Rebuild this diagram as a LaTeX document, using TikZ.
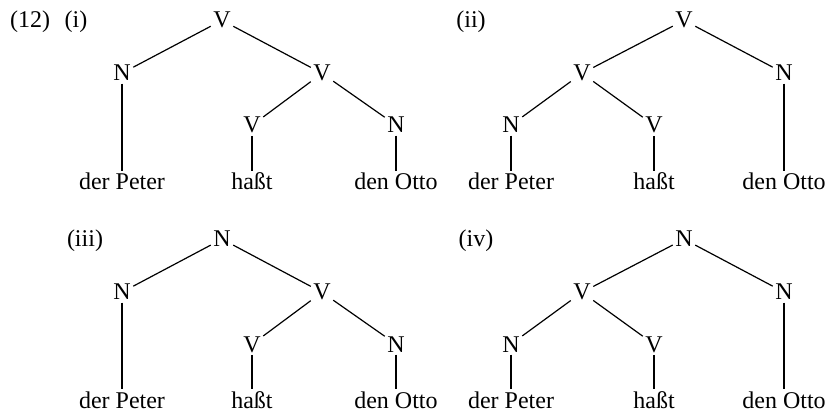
\documentclass[tikz,border=0pt]{standalone}
\usepackage{fontspec}
\setmainfont{Liberation Serif}
\usetikzlibrary{positioning}

\begin{document}
\begin{tikzpicture}[x=0.75pt, y=-0.75pt, line width=0.9pt,
    cat/.style={anchor=base, inner sep=1.5pt, font=\fontsize{18}{21}\selectfont},
    word/.style={anchor=base, inner xsep=2pt, inner ysep=1pt, font=\fontsize{18}{21}\selectfont},
    exno/.style={anchor=base, font=\fontsize{18}{21}\selectfont}]
\useasboundingbox (0,0) rectangle (828,413);

% Labels
\node[exno] (ex) at (30,28) {(12)};
\node[exno] (lab-i) at (76,28) {(i)};
\node[exno] (lab-ii) at (471,28) {(ii)};
\node[exno] (lab-iii) at (85,247) {(iii)};
\node[exno] (lab-iv) at (476,247) {(iv)};

% Tree (i)
\node[cat] (i-top) at (222,28) {V};
\node[cat] (i-a) at (122,81) {N};
\node[cat] (i-b) at (322,81) {V};
\node[cat] (i-c) at (252,133) {V};
\node[cat] (i-d) at (396,133) {N};
\node[word] (i-peter) at (122,190) {der Peter};
\node[word] (i-hasst) at (252,190) {haßt};
\node[word] (i-otto) at (396,190) {den Otto};

% Tree (ii)
\node[cat] (ii-top) at (684,28) {V};
\node[cat] (ii-a) at (582,81) {V};
\node[cat] (ii-b) at (784,81) {N};
\node[cat] (ii-c) at (511,133) {N};
\node[cat] (ii-d) at (654,133) {V};
\node[word] (ii-peter) at (511,190) {der Peter};
\node[word] (ii-hasst) at (654,190) {haßt};
\node[word] (ii-otto) at (784,190) {den Otto};

% Tree (iii)
\node[cat] (iii-top) at (222,247) {N};
\node[cat] (iii-a) at (122,300) {N};
\node[cat] (iii-b) at (322,300) {V};
\node[cat] (iii-c) at (252,352) {V};
\node[cat] (iii-d) at (396,352) {N};
\node[word] (iii-peter) at (122,408) {der Peter};
\node[word] (iii-hasst) at (252,408) {haßt};
\node[word] (iii-otto) at (396,408) {den Otto};

% Tree (iv)
\node[cat] (iv-top) at (684,247) {N};
\node[cat] (iv-a) at (582,300) {V};
\node[cat] (iv-b) at (784,300) {N};
\node[cat] (iv-c) at (511,352) {N};
\node[cat] (iv-d) at (654,352) {V};
\node[word] (iv-peter) at (511,408) {der Peter};
\node[word] (iv-hasst) at (654,408) {haßt};
\node[word] (iv-otto) at (784,408) {den Otto};

% Branches
\foreach \t in {i, iii} {
    \foreach \p/\q in {top/a, top/b, b/c, b/d, a/peter, c/hasst, d/otto}
        \draw (\t-\p) -- (\t-\q);
}
\foreach \t in {ii, iv} {
    \foreach \p/\q in {top/a, top/b, a/c, a/d, c/peter, d/hasst, b/otto}
        \draw (\t-\p) -- (\t-\q);
}
\end{tikzpicture}
\end{document}
